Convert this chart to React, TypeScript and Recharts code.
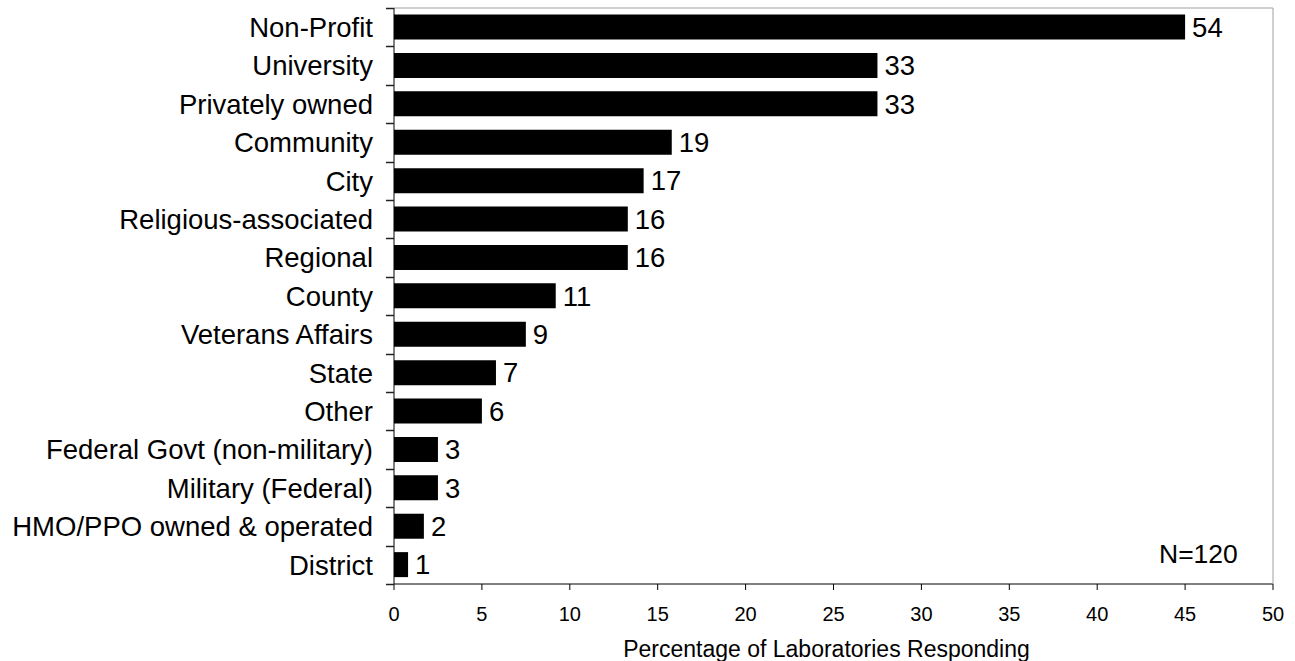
import React from 'react';
import { BarChart, Bar, XAxis, YAxis, LabelList } from 'recharts';

const categories = [
  'Non-Profit',
  'University',
  'Privately owned',
  'Community',
  'City',
  'Religious-associated',
  'Regional',
  'County',
  'Veterans Affairs',
  'State',
  'Other',
  'Federal Govt (non-military)',
  'Military (Federal)',
  'HMO/PPO owned & operated',
  'District',
];

// bar length = percentage of labs, label = number of labs
const percents = [45, 27.5, 27.5, 15.8, 14.2, 13.3, 13.3, 9.2, 7.5, 5.8, 5.0, 2.5, 2.5, 1.7, 0.8];
const counts = [54, 33, 33, 19, 17, 16, 16, 11, 9, 7, 6, 3, 3, 2, 1];

const xTicks = [0, 5, 10, 15, 20, 25, 30, 35, 40, 45, 50];
const sampleNote = 'N=120';
const xTitle = 'Percentage of Laboratories Responding';

const data = categories.map((name, i) => ({ name, pct: percents[i], count: counts[i] }));

const FONT = '"Liberation Sans", Arial, sans-serif';
const CHART_H = 661;
const MARGIN_TOP = 7;
const X_AXIS_H = 77;
const LABEL_GAP = 21;
const TICK_LEN = 8;
// half a category band (plot height / number of categories / 2)
const HALF_BAND = (CHART_H - MARGIN_TOP - 1 - X_AXIS_H) / categories.length / 2;

// category label + tick marks on the band boundaries (like the Excel original)
function renderCategoryTick(props: any) {
  const { x, y, payload, index } = props;
  const ax = Number(x) + LABEL_GAP;
  const cy = Number(y);
  const below = Math.round(cy + HALF_BAND) + 0.5;
  const above = Math.round(cy - HALF_BAND) + 0.5;
  let d = `M${ax - TICK_LEN},${below}H${ax}`;
  if (index === 0) d += ` M${ax - TICK_LEN},${above}H${ax}`;
  return (
    <g key={`t-${index}`}>
      <text x={x} y={y} dy="0.355em" textAnchor="end" fontSize={27.5} fill="#000" fontFamily={FONT}>
        {payload.value}
      </text>
      <path d={d} stroke="#222" strokeWidth={1.5} />
    </g>
  );
}

const App: React.FC = () => {
  return (
    <div style={{ position: 'absolute', left: 0, top: 0, fontFamily: FONT }}>
      <BarChart
        width={1295}
        height={CHART_H}
        data={data}
        layout="vertical"
        margin={{ top: MARGIN_TOP, right: 21, left: 0, bottom: 0 }}
        barCategoryGap="17%"
      >
        <XAxis
          type="number"
          domain={[0, 50]}
          ticks={xTicks}
          height={X_AXIS_H}
          stroke="#000"
          tickSize={6}
          tickMargin={17}
          tick={{ fontSize: 20, fill: '#000', fontFamily: FONT }}
          label={{ value: xTitle, position: 'insideBottom', offset: 4, fontSize: 23, fill: '#000', fontFamily: FONT, dx: -7 }}
        />
        <XAxis
          xAxisId="border"
          orientation="top"
          type="number"
          domain={[0, 1]}
          height={1}
          tick={false}
          tickLine={false}
          stroke="#a0a0a0"
        />
        <YAxis
          type="category"
          dataKey="name"
          width={394}
          stroke="#000"
          tickLine={false}
          tickSize={0}
          tickMargin={LABEL_GAP}
          tick={renderCategoryTick}
          interval={0}
        />
        <YAxis
          yAxisId="border"
          orientation="right"
          type="number"
          domain={[0, 1]}
          width={1}
          tick={false}
          tickLine={false}
          stroke="#a0a0a0"
        />
        <Bar dataKey="pct" fill="#000" isAnimationActive={false}>
          <LabelList
            dataKey="count"
            position="right"
            offset={7}
            style={{ fontSize: 27.5, fill: '#000', fontFamily: FONT }}
          />
        </Bar>
      </BarChart>
      <div
        style={{
          position: 'absolute',
          left: 1159,
          top: 539,
          fontSize: 26.5,
          lineHeight: '30px',
          color: '#000',
        }}
      >
        {sampleNote}
      </div>
    </div>
  );
};

export default App;
